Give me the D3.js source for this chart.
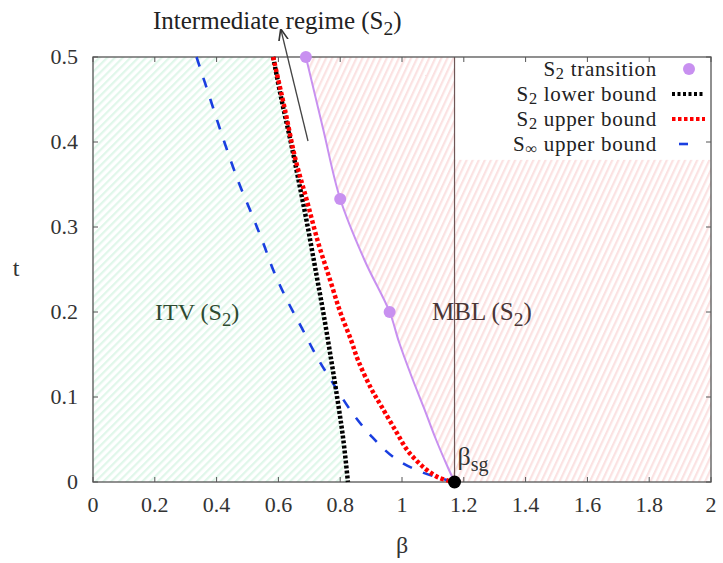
<!DOCTYPE html>
<html><head><meta charset="utf-8">
<script src="https://cdn.jsdelivr.net/npm/d3@7"></script>
<style>
body{margin:0;background:#fff;}
svg{display:block;font-family:"Liberation Serif","DejaVu Serif",serif;}
</style></head>
<body>
<svg id="c" width="723" height="563"></svg>
<script>
// ---- data ----
const xTicks = [0,0.2,0.4,0.6,0.8,1,1.2,1.4,1.6,1.8,2];
const yTicks = [0,0.1,0.2,0.3,0.4,0.5];
const xTickLabels = ["0","0.2","0.4","0.6","0.8","1","1.2","1.4","1.6","1.8","2"];
const yTickLabels = ["0","0.1","0.2","0.3","0.4","0.5"];

const lowerBeta = [0.583,0.61,0.64,0.668,0.695,0.72,0.745,0.768,0.79,0.81,0.825];
const lowerT    = [0.5,0.45,0.40,0.35,0.30,0.25,0.20,0.15,0.10,0.05,0.0];

const upperBeta = [0.583,0.62,0.655,0.693,0.73,0.767,0.80,0.835,0.858,0.90,0.935,0.98,1.016,1.05,1.081,1.12,1.17];
const upperT    = [0.5,0.44,0.38,0.33,0.28,0.238,0.2,0.167,0.143,0.11,0.088,0.06,0.038,0.024,0.014,0.005,0.0];

const infBeta = [0.335,0.38,0.425,0.472,0.515,0.55,0.586,0.628,0.676,0.725,0.777,0.838,0.903,0.977,1.068,1.17];
const infT    = [0.5,0.45,0.40,0.352,0.314,0.282,0.247,0.214,0.181,0.147,0.116,0.082,0.053,0.028,0.011,0.0];

const transBeta = [0.689,0.80,0.96];
const transT    = [0.5,0.333,0.2];
const transLineBeta = [0.689,0.745,0.80,0.88,0.96,0.99,1.03,1.07,1.11,1.145,1.17];
const transLineT    = [0.5,0.415,0.333,0.26,0.2,0.165,0.125,0.088,0.05,0.02,0.0];

const betaSG = 1.17;
const legendLabels = [["S","2"," transition"],["S","2"," lower bound"],["S","2"," upper bound"],["S","\u221E"," upper bound"]];

// ---- layout ----
const svg = d3.select("#c");
const L=93, R=711, T=57, B=482;
const x = d3.scaleLinear().domain([0,2]).range([L,R]);
const y = d3.scaleLinear().domain([0,0.5]).range([B,T]);
const pts = (bs,ts)=>bs.map((b,i)=>[b,ts[i]]);

const defs = svg.append("defs");
const pg = defs.append("pattern").attr("id","hg").attr("patternUnits","userSpaceOnUse")
  .attr("width",5.5).attr("height",6).attr("patternTransform","rotate(45)");
pg.append("rect").attr("width",6).attr("height",6).attr("fill","#fff");
pg.append("rect").attr("width",2.2).attr("height",6).attr("fill","#e0f7ea");
const pp = defs.append("pattern").attr("id","hp").attr("patternUnits","userSpaceOnUse")
  .attr("width",5.5).attr("height",6).attr("patternTransform","rotate(25)");
pp.append("rect").attr("width",6).attr("height",6).attr("fill","#fff");
pp.append("rect").attr("width",2.2).attr("height",6).attr("fill","#fbe2e2");
defs.append("marker").attr("id","arr").attr("viewBox","0 0 10 10").attr("refX",9).attr("refY",5)
  .attr("markerWidth",9).attr("markerHeight",9).attr("orient","auto")
  .append("path").attr("d","M0,1 L10,5 L0,9").attr("fill","none").attr("stroke","#333").attr("stroke-width",1.4);

const line = d3.line().x(d=>x(d[0])).y(d=>y(d[1]));
const smooth = d3.line().x(d=>x(d[0])).y(d=>y(d[1])).curve(d3.curveCatmullRom);

// green region
const lowerPts = pts(lowerBeta,lowerT);
svg.append("path").attr("d", line([[0,0],[0,0.5]].concat(lowerPts).concat([[0,0]])))
  .attr("fill","url(#hg)");
// pink region
const transLinePts = pts(transLineBeta,transLineT);
svg.append("path").attr("d", line(transLinePts.concat([[2,0],[2,0.5],[transLineBeta[0],0.5]])))
  .attr("fill","url(#hp)");
// legend background
svg.append("rect").attr("x",x(betaSG)).attr("y",T).attr("width",R-x(betaSG)).attr("height",y(0.379)-T)
  .attr("fill","#fff");

// vertical line at beta_sg
svg.append("line").attr("x1",x(betaSG)).attr("x2",x(betaSG)).attr("y1",y(0)).attr("y2",y(0.5))
  .attr("stroke","#6e5656").attr("stroke-width",1.2);

// ticks
const g = svg.append("g");
xTicks.forEach(v=>{
  g.append("line").attr("x1",x(v)).attr("x2",x(v)).attr("y1",B).attr("y2",B-5).attr("stroke","#555");
  g.append("line").attr("x1",x(v)).attr("x2",x(v)).attr("y1",T).attr("y2",T+5).attr("stroke","#555");
});
yTicks.forEach(v=>{
  g.append("line").attr("x1",L).attr("x2",L+5).attr("y1",y(v)).attr("y2",y(v)).attr("stroke","#555");
  g.append("line").attr("x1",R).attr("x2",R-5).attr("y1",y(v)).attr("y2",y(v)).attr("stroke","#555");
});

// frame
svg.append("rect").attr("x",L).attr("y",T).attr("width",R-L).attr("height",B-T)
  .attr("fill","none").attr("stroke","#555").attr("stroke-width",1.3);

// tick labels
svg.append("g").selectAll("text").data(xTicks).join("text")
  .attr("x",d=>x(d)).attr("y",B+30).attr("text-anchor","middle").attr("font-size",22).attr("fill","#333")
  .text((d,i)=>xTickLabels[i]);
svg.append("g").selectAll("text").data(yTicks).join("text")
  .attr("x",L-15).attr("y",d=>y(d)+7).attr("text-anchor","end").attr("font-size",22).attr("fill","#333")
  .text((d,i)=>yTickLabels[i]);
svg.append("text").attr("x",x(1)).attr("y",553).attr("text-anchor","middle").attr("font-size",24).attr("fill","#333").text("\u03B2");
svg.append("text").attr("x",16).attr("y",y(0.25)+6).attr("text-anchor","middle").attr("font-size",24).attr("fill","#333").text("t");

// curves
svg.append("path").attr("d",smooth(pts(infBeta,infT))).attr("fill","none")
  .attr("stroke","#1a3fe0").attr("stroke-width",2.6).attr("stroke-dasharray","10,12");
svg.append("path").attr("d",smooth(lowerPts)).attr("fill","none")
  .attr("stroke","#000").attr("stroke-width",4.5).attr("stroke-dasharray","3,2");
svg.append("path").attr("d",smooth(pts(upperBeta,upperT))).attr("fill","none")
  .attr("stroke","#f00").attr("stroke-width",4.5).attr("stroke-dasharray","3.5,2.5");
svg.append("path").attr("d",smooth(transLinePts)).attr("fill","none")
  .attr("stroke","#c890f0").attr("stroke-width",2);
svg.append("g").selectAll("circle").data(pts(transBeta,transT)).join("circle")
  .attr("cx",d=>x(d[0])).attr("cy",d=>y(d[1])).attr("r",6).attr("fill","#c890f0");

// beta_sg point
svg.append("circle").attr("cx",x(betaSG)).attr("cy",y(0)).attr("r",6.5).attr("fill","#000");
const bl = svg.append("text").attr("x",x(betaSG)+3).attr("y",y(0)-17).attr("font-size",26).attr("fill","#333");
bl.append("tspan").text("\u03B2");
bl.append("tspan").attr("dy",6).attr("font-size",20).text("sg");

// region labels
function sub(t, xx, yy, parts, fs, col, anchor, sh, ls){
  const s = sh||6;
  const e = t.append("text").attr("x",xx).attr("y",yy).attr("font-size",fs).attr("fill",col)
    .attr("text-anchor",anchor||"start").attr("letter-spacing",ls||0);
  e.append("tspan").text(parts[0]);
  e.append("tspan").attr("dy",s).attr("font-size",fs*0.78).text(parts[1]);
  e.append("tspan").attr("dy",-s).text(parts[2]);
  return e;
}
sub(svg,155,320,["ITV (S","2",")"],24,"#2e4a30");
sub(svg,432,320,["MBL (S","2",")"],25,"#4a3636");
sub(svg,153,29,["Intermediate regime (S","2",")"],25,"#222");

// annotation arrow
svg.append("line").attr("x1",308).attr("y1",141).attr("x2",281).attr("y2",30)
  .attr("stroke","#444").attr("stroke-width",1.3).attr("marker-end","url(#arr)");

// legend
const rows=[69,94,119,144];
legendLabels.forEach((p,i)=>{
  sub(svg,657,rows[i]+7,p,21,"#222","end",3,0.7);
});
svg.append("circle").attr("cx",689).attr("cy",rows[0]).attr("r",6).attr("fill","#c890f0");
svg.append("line").attr("x1",672).attr("x2",705).attr("y1",rows[1]).attr("y2",rows[1])
  .attr("stroke","#000").attr("stroke-width",4).attr("stroke-dasharray","3,2.5");
svg.append("line").attr("x1",672).attr("x2",705).attr("y1",rows[2]).attr("y2",rows[2])
  .attr("stroke","#f00").attr("stroke-width",4).attr("stroke-dasharray","3.5,2.5");
svg.append("line").attr("x1",679).attr("x2",688).attr("y1",rows[3]).attr("y2",rows[3])
  .attr("stroke","#1a3fe0").attr("stroke-width",2.6);
</script>
</body></html>
